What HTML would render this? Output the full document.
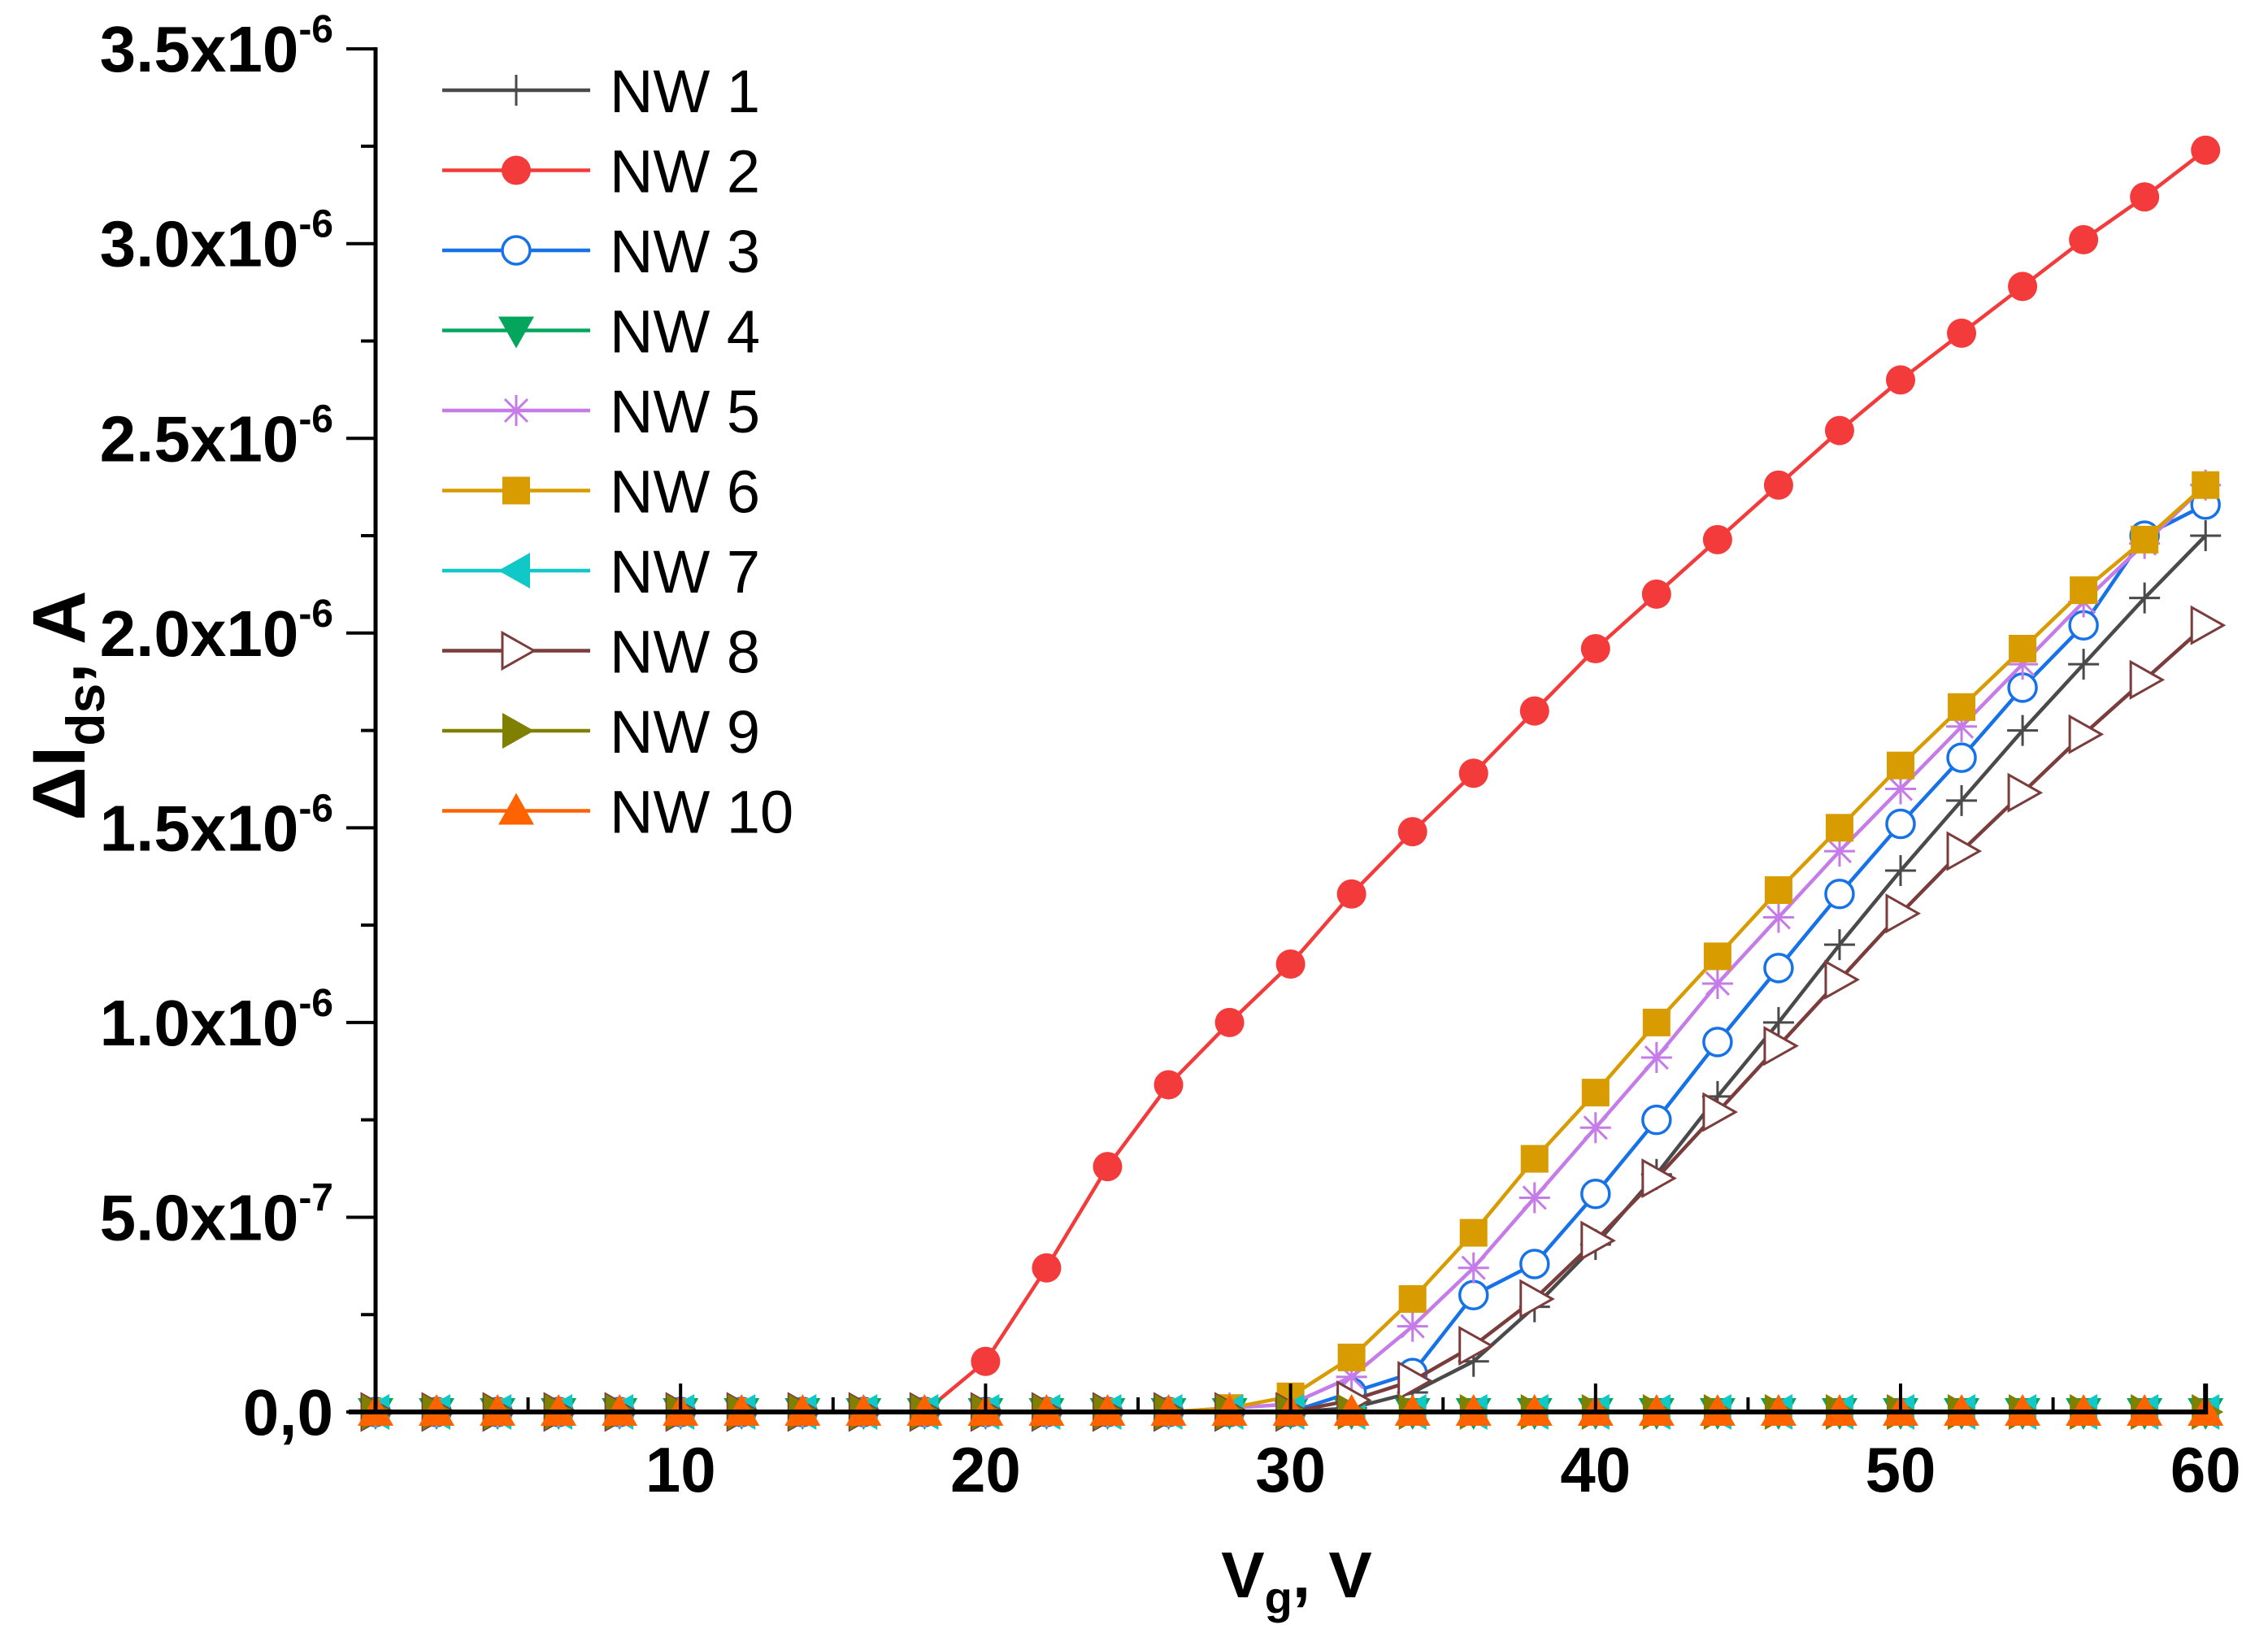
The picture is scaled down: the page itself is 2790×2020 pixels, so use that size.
<!DOCTYPE html>
<html><head><meta charset="utf-8"><style>
html,body{margin:0;padding:0;background:#fff}
svg{display:block}
text{font-family:"Liberation Sans",Arial,sans-serif}
</style></head><body>
<svg id="chart" width="2790" height="2020" viewBox="0 0 2790 2020" xmlns="http://www.w3.org/2000/svg">
<rect width="2790" height="2020" fill="#fff"/>
<g id="series"></g>
<g id="axes"></g>
<g id="legend"></g>
<text transform="translate(104,868) rotate(-90)" text-anchor="middle" font-size="92" font-weight="bold">ΔI<tspan font-size="66" dy="24">ds</tspan><tspan dy="-24">, A</tspan></text>
<text x="1595" y="1965" text-anchor="middle" font-size="80" font-weight="bold">V<tspan font-size="56" dy="20">g</tspan><tspan dy="-20">, V</tspan></text>
</svg>
<script>
const xVals = [0,2,4,6,8,10,12,14,16,18,20,22,24,26,28,30,32,34,36,38,40,42,44,46,48,50,52,54,56,58,60];
const nw1 = [0,0,0,0,0,0,0,0,0,0,0,0,0,0,0,0,0.01,0.05,0.13,0.27,0.43,0.61,0.81,1.0,1.2,1.39,1.57,1.75,1.92,2.09,2.25];
const nw2 = [0,0,0,0,0,0,0,0,0,0,0.13,0.37,0.63,0.84,1.0,1.15,1.33,1.49,1.64,1.80,1.96,2.10,2.24,2.38,2.52,2.65,2.77,2.89,3.01,3.12,3.24];
const nw3 = [0,0,0,0,0,0,0,0,0,0,0,0,0,0,0,0,0.05,0.10,0.30,0.38,0.56,0.75,0.95,1.14,1.33,1.51,1.68,1.86,2.02,2.25,2.33];
const nw4 = [0,0,0,0,0,0,0,0,0,0,0,0,0,0,0,0,0,0,0,0,0,0,0,0,0,0,0,0,0,0,0];
const nw5 = [0,0,0,0,0,0,0,0,0,0,0,0,0,0,0.01,0.02,0.09,0.22,0.37,0.55,0.73,0.91,1.10,1.27,1.44,1.60,1.76,1.92,2.08,2.23,2.38];
const nw6 = [0,0,0,0,0,0,0,0,0,0,0,0,0,0,0.01,0.04,0.14,0.29,0.46,0.65,0.82,1.0,1.17,1.34,1.50,1.66,1.81,1.96,2.11,2.24,2.38];
const nw7 = [0,0,0,0,0,0,0,0,0,0,0,0,0,0,0,0,0,0,0,0,0,0,0,0,0,0,0,0,0,0,0];
const nw8 = [0,0,0,0,0,0,0,0,0,0,0,0,0,0,0,0,0.03,0.08,0.17,0.29,0.44,0.60,0.77,0.94,1.11,1.28,1.44,1.59,1.74,1.88,2.02];
const nw9 = [0,0,0,0,0,0,0,0,0,0,0,0,0,0,0,0,0,0,0,0,0,0,0,0,0,0,0,0,0,0,0];
const nw10 = [0,0,0,0,0,0,0,0,0,0,0,0,0,0,0,0,0,0,0,0,0,0,0,0,0,0,0,0,0,0,0];
const seriesNames = ["NW 1","NW 2","NW 3","NW 4","NW 5","NW 6","NW 7","NW 8","NW 9","NW 10"];
const yTickVals = [0,0.5,1.0,1.5,2.0,2.5,3.0,3.5];
const yTickLabels = ["0,0","5.0x10","1.0x10","1.5x10","2.0x10","2.5x10","3.0x10","3.5x10"];
const yTickExp = ["","-7","-6","-6","-6","-6","-6","-6"];
const xTickVals = [10,20,30,40,50,60];
const xTickLabels = ["10","20","30","40","50","60"];

const NS="http://www.w3.org/2000/svg";
const X0=462, XS=37.52, Y0=1737, YS=479.1;
const xs=v=>X0+v*XS, ys=v=>Y0-v*YS;
function mk(tag,attrs,parent){const e=document.createElementNS(NS,tag);for(const k in attrs)e.setAttribute(k,attrs[k]);parent.appendChild(e);return e;}

const data=[nw1,nw2,nw3,nw4,nw5,nw6,nw7,nw8,nw9,nw10];
const colors=["#4a4a4a","#f43b3b","#1672e6","#04a65e","#c57be8","#d89c00","#10c8c8","#7b3c3c","#7f8000","#ff6300"];
const kinds=["plus","circle","ocircle","tdown","star","square","tleft","otright","tright","tup"];

function marker(g,kind,cx,cy,col){
  const s=19;
  if(kind==="plus"){mk("path",{d:`M${cx-s} ${cy}H${cx+s}M${cx} ${cy-s}V${cy+s}`,stroke:col,"stroke-width":3,fill:"none"},g);}
  else if(kind==="circle"){mk("circle",{cx,cy,r:18,fill:col},g);}
  else if(kind==="ocircle"){mk("circle",{cx,cy,r:17,fill:"#fff",stroke:col,"stroke-width":3.5},g);}
  else if(kind==="square"){mk("rect",{x:cx-17,y:cy-17,width:34,height:34,fill:col},g);}
  else if(kind==="star"){mk("path",{d:`M${cx-s} ${cy}H${cx+s}M${cx} ${cy-s}V${cy+s}M${cx-14} ${cy-14}L${cx+14} ${cy+14}M${cx-14} ${cy+14}L${cx+14} ${cy-14}`,stroke:col,"stroke-width":3,fill:"none"},g);}
  else {
    let p;
    if(kind==="tup")p=[[0,-22],[22,17],[-22,17]];
    else if(kind==="tdown")p=[[0,22],[22,-17],[-22,-17]];
    else if(kind==="tleft")p=[[-22,0],[17,-22],[17,22]];
    else p=[[22,0],[-17,-22],[-17,22]];
    const pts=p.map(q=>(cx+q[0])+","+(cy+q[1])).join(" ");
    if(kind==="otright")mk("polygon",{points:pts,fill:"#fff",stroke:col,"stroke-width":3},g);
    else mk("polygon",{points:pts,fill:col},g);
  }
}

const sg=document.getElementById("series");
data.forEach((arr,i)=>{
  const g=mk("g",{},sg);
  
  
  const d=arr.map((v,j)=>(j?"L":"M")+xs(xVals[j]).toFixed(1)+" "+ys(v).toFixed(1)).join("");
  const ln=mk("path",{d,fill:"none",stroke:colors[i],"stroke-width":4.5,"stroke-linejoin":"round"},g);
  
  
  arr.forEach((v,j)=>marker(g,kinds[i],xs(xVals[j]),ys(v),colors[i]));
});

const ax=document.getElementById("axes");
const yl=mk("line",{x1:X0,y1:ys(3.5)-2,x2:X0,y2:Y0+3,stroke:"#000","stroke-width":5},ax);


const xl=mk("path",{d:`M429 ${Y0}H${xs(60)}V${Y0-35}`,stroke:"#000","stroke-width":6,fill:"none"},ax);


for(let v=0;v<=3.5001;v+=0.25){
  const major=Math.abs(v*2-Math.round(v*2))<1e-6;
  mk("line",{x1:X0-(major?36:18),y1:ys(v),x2:X0,y2:ys(v),stroke:"#000","stroke-width":4},ax);
}
yTickVals.forEach((v,i)=>{
  const t=mk("text",{x:410,y:ys(v)+28,"text-anchor":"end","font-size":80,"font-weight":"bold"},ax);
  
  
  t.textContent=yTickLabels[i];
  if(yTickExp[i]){const e=mk("tspan",{"font-size":48,dy:-36},t);e.textContent=yTickExp[i];}
});
for(let v=5;v<60;v+=10){mk("line",{x1:xs(v),y1:Y0,x2:xs(v),y2:Y0-18,stroke:"#000","stroke-width":4},ax);}
xTickVals.forEach((v,i)=>{
  mk("line",{x1:xs(v),y1:Y0,x2:xs(v),y2:Y0-35,stroke:"#000","stroke-width":4},ax);
  const t=mk("text",{x:xs(v),y:1835,"text-anchor":"middle","font-size":78,"font-weight":"bold"},ax);
  
  
  t.textContent=xTickLabels[i];
});

const lg=document.getElementById("legend");
seriesNames.forEach((n,i)=>{
  const y=111+i*98.5;
  const g=mk("g",{},lg);
  
  
  mk("line",{x1:544,y1:y,x2:726,y2:y,stroke:colors[i],"stroke-width":4.5},g);
  marker(g,kinds[i],635,y,colors[i]);
  const t=mk("text",{x:750,y:y+27,"font-size":74},g);
  t.textContent=n;
});
</script>
</body></html>
